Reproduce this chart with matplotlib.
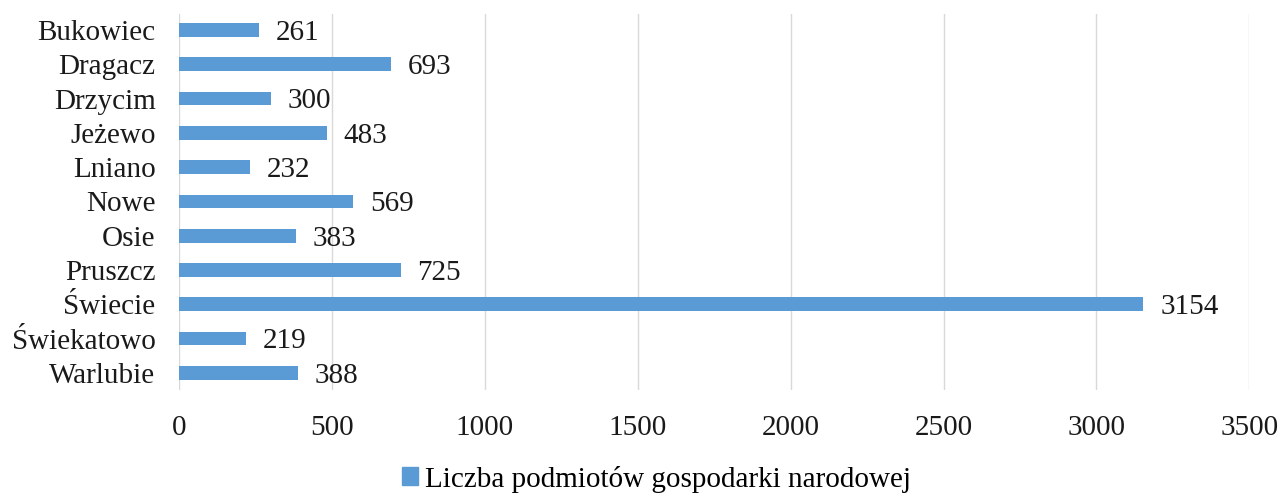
import matplotlib
matplotlib.use("Agg")
import matplotlib.pyplot as plt
from matplotlib.patches import Patch

gminy = ["Bukowiec", "Dragacz", "Drzycim", "Jeżewo", "Lniano", "Nowe", "Osie",
         "Pruszcz", "Świecie", "Świekatowo", "Warlubie"]
podmioty = [261, 693, 300, 483, 232, 569, 383, 725, 3154, 219, 388]
xticks = [0, 500, 1000, 1500, 2000, 2500, 3000, 3500]

BAR_COLOR = "#5B9BD5"
plt.rcParams["font.family"] = ["Liberation Serif", "DejaVu Serif"]

fig = plt.figure(figsize=(12.8, 4.95), dpi=100)
ax = fig.add_axes([0.14, 0.212, 0.836, 0.76])

pos = list(range(len(gminy)))
ax.barh(pos, podmioty, height=0.4, color=BAR_COLOR, zorder=2)
for p, v in zip(pos, podmioty):
    ax.annotate(str(v), (v, p), xytext=(12, -2), textcoords="offset points",
                ha="left", va="center", fontsize=21, color="#1a1a1a")

ax.set_xlim(0, 3500)
ax.set_ylim(len(gminy) - 0.5, -0.47)
ax.set_xticks(xticks)
ax.set_yticks(pos)
ax.set_yticklabels(gminy)
ax.tick_params(axis="both", length=0, labelsize=21, colors="#1a1a1a")
ax.tick_params(axis="x", pad=18)
ax.tick_params(axis="y", pad=17)
ax.grid(axis="x", color="#D9D9D9", linewidth=1, zorder=0)
for s in ax.spines.values():
    s.set_visible(False)

fig.legend(handles=[Patch(color=BAR_COLOR, label="Liczba podmiotów gospodarki narodowej")],
           loc="lower center", bbox_to_anchor=(0.513, -0.048), frameon=False,
           fontsize=21, handlelength=0.55, handleheight=0.55, handletextpad=0.25)

fig.savefig("out.png", dpi=100)
